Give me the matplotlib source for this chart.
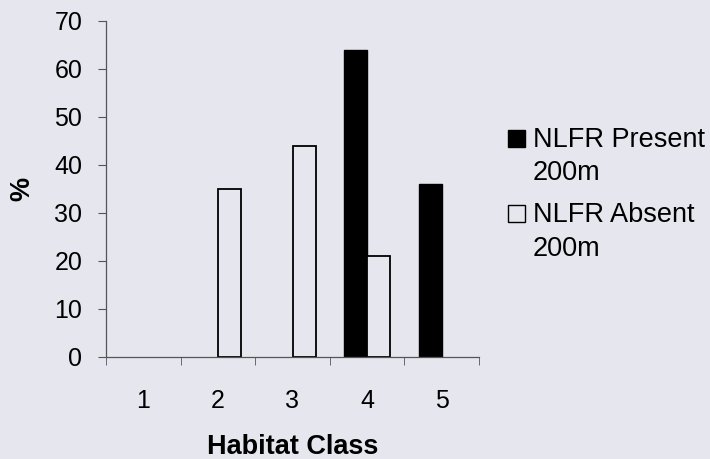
import matplotlib
matplotlib.use("Agg")
import matplotlib.pyplot as plt
from matplotlib.patches import Rectangle
import numpy as np

classes = ["1", "2", "3", "4", "5"]
present = [0, 0, 0, 64, 36]
absent = [0, 35, 44, 21, 0]
yticks = [0, 10, 20, 30, 40, 50, 60, 70]
legend_labels = [("NLFR Present", "200m"), ("NLFR Absent", "200m")]

plt.rcParams['font.family'] = ['Liberation Sans', 'DejaVu Sans']
bg = '#E6E6EE'
W, H = 710, 459
fig = plt.figure(figsize=(W/100, H/100), dpi=100, facecolor=bg)
ax = fig.add_axes([106/W, 1 - 357/H, (479 - 106)/W, (357 - 21)/H])
ax.set_facecolor(bg)

x = np.arange(len(classes))
w = 0.31
b1 = ax.bar(x - w/2, present, width=w, color='black', edgecolor='black', linewidth=1)
b2 = ax.bar(x + w/2, absent, width=w, color=bg, edgecolor='black', linewidth=1.3)
for r in list(b1) + list(b2):
    if r.get_height() == 0:
        r.set_visible(False)

ax.set_xlim(-0.5, len(classes) - 0.5)
ax.set_ylim(0, 70)
ax.set_yticks(yticks)
ax.set_xticks(x)
ax.set_xticklabels(classes)
ax.set_xticks(np.arange(-0.5, len(classes), 1), minor=True)
ax.tick_params(axis='x', which='major', length=0, pad=23, labelsize=18)
ax.tick_params(axis='x', which='minor', length=6, color='#555555', direction='out')
ax.tick_params(axis='y', length=6, color='#555555', labelsize=18, pad=11)
for s in ['top', 'right']:
    ax.spines[s].set_visible(False)
for s in ['left', 'bottom']:
    ax.spines[s].set_color('#555555')
    ax.spines[s].set_linewidth(0.9)

ax.set_xlabel('Habitat Class', fontsize=19.5, fontweight='bold', labelpad=15)
ax.set_ylabel('%', fontsize=19.5, fontweight='bold', labelpad=14)

# legend (manual, markers aligned with first line as in the reference)
styles = [dict(facecolor='black', edgecolor='black'), dict(facecolor=bg, edgecolor='black')]
entry_base = [147, 222]
line_pitch = 33.5
for (l1, l2), st, yb in zip(legend_labels, styles, entry_base):
    fig.add_artist(Rectangle((508/W, 1 - yb/H), 17/W, 17/H, transform=fig.transFigure,
                             linewidth=1.0, **st))
    fig.text(533/W, 1 - yb/H, l1, fontsize=19.5, va='baseline', ha='left')
    fig.text(533/W, 1 - (yb + line_pitch)/H, l2, fontsize=19.5, va='baseline', ha='left')

fig.savefig('out.png', dpi=100, facecolor=bg)
